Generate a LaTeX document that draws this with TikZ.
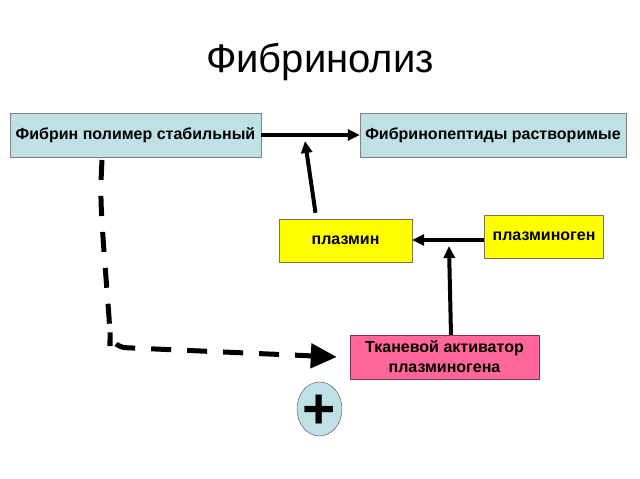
\documentclass[tikz,border=0pt]{standalone}
\usepackage{fontspec}
\setmainfont{Liberation Sans}
\usetikzlibrary{arrows.meta,shapes.geometric}
\definecolor{boxblue}{HTML}{BFE0E4}
\definecolor{boxyellow}{HTML}{FFFF00}
\definecolor{boxpink}{HTML}{FF6699}
\begin{document}
\begin{tikzpicture}[x=1pt,y=-1pt,
		box/.style={draw=gray,fill=boxblue,inner sep=0pt,font=\fontsize{16}{19}\selectfont\bfseries},
		ybox/.style={draw=black!60!yellow,fill=boxyellow,inner sep=0pt,font=\fontsize{16}{19}\selectfont\bfseries},
		pbox/.style={draw=black!50!boxpink,fill=boxpink,inner sep=0pt,align=center,font=\fontsize{16}{20}\selectfont\bfseries},
		arr/.style={line width=4pt,-{Triangle[length=12pt,width=11pt]}},
		darr/.style={line width=5pt,dash pattern=on 20pt off 16pt,rounded corners=16pt,-{Triangle[length=26pt,width=24pt]}}]
				\useasboundingbox (0,0) rectangle (640,479);
				\node[anchor=center] (title) at (320,62)
					{\fontsize{40}{44}\selectfont Фибринолиз};
				\node[box,minimum width=251pt,minimum height=44pt] (fibrin) at (135.5,135)
					{Фибрин полимер стабильный};
				\node[box,minimum width=266pt,minimum height=44pt] (peptide) at (493,135)
					{Фибринопептиды растворимые};
				\node[ybox,minimum width=133pt,minimum height=43pt] (plasmin) at (345.5,240.5)
					{плазмин};
				\node[ybox,minimum width=119pt,minimum height=43pt] (plasminogen) at (544,236.5)
					{плазминоген};
				\node[pbox,minimum width=189pt,minimum height=44pt] (activ) at (444.5,357)
					{Тканевой активатор\\плазминогена};
				\node[ellipse,draw=black!70,fill=boxblue,minimum width=45pt,minimum height=54pt,inner sep=-5pt] (plus) at (319.5,409)
					{\fontsize{57}{57}\selectfont\bfseries\raisebox{-19.5pt}[0pt][0pt]{+}};
				\coordinate (pl-tip) at (305,141);
				\coordinate (ac-tip) at (449,246);
				\coordinate (dstart) at (102,160);
				\coordinate (dbend) at (110,347);
				\draw[arr] (fibrin.east) -- (peptide.west);
				\draw[arr] ([xshift=-30pt]plasmin.north) ++(0,-6) -- (pl-tip);
				\draw[arr] (plasminogen.west |- 0,240) -- (plasmin.east |- 0,240);
				\draw[arr] ([xshift=6.5pt]activ.north) -- (ac-tip);
				\draw[darr] (dstart) .. controls (100,200) .. (110,330) -- (dbend) -- ([xshift=-13pt]activ.west);
\end{tikzpicture}
\end{document}
